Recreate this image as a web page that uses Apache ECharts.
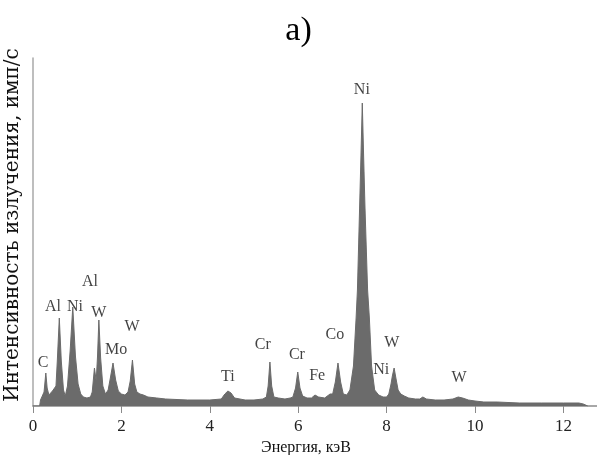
<!DOCTYPE html>
<html>
<head>
<meta charset="utf-8">
<script src="https://cdn.jsdelivr.net/npm/echarts@6/dist/echarts.min.js"></script>
<style>html,body{margin:0;padding:0;background:#fff;}#c{width:597px;height:455px;}</style>
</head>
<body>
<div id="c"></div>
<script>
// Spectrum: energy (keV) and intensity (arbitrary units)
var energy = [0.00,0.15,0.17,0.20,0.25,0.29,0.32,0.36,0.40,0.44,0.48,0.52,0.55,0.595,0.64,0.69,0.73,0.78,0.84,0.90,0.96,1.02,1.08,1.14,1.22,1.30,1.34,1.39,1.43,1.46,1.49,1.53,1.58,1.64,1.70,1.75,1.81,1.87,1.93,2.00,2.08,2.15,2.20,2.25,2.30,2.35,2.42,2.50,2.60,2.80,3.00,3.50,4.00,4.26,4.34,4.41,4.48,4.56,4.80,5.00,5.20,5.28,5.32,5.36,5.40,5.45,5.55,5.70,5.82,5.88,5.94,5.99,6.04,6.10,6.20,6.30,6.38,6.46,6.60,6.72,6.78,6.84,6.90,6.96,7.02,7.10,7.17,7.25,7.31,7.34,7.39,7.42,7.45,7.48,7.51,7.57,7.61,7.66,7.73,7.82,7.92,8.00,8.05,8.10,8.13,8.17,8.21,8.26,8.32,8.40,8.50,8.65,8.75,8.82,8.90,9.10,9.30,9.50,9.62,9.72,9.85,10.00,10.20,10.50,11.00,11.50,12.00,12.35,12.45,12.55];
var intensity = [0,0,6,9,14,33,18,11,12,15,13,20,45,88,45,16,10,20,55,99,50,22,12,9,8,9,14,38,25,50,86,48,20,12,16,28,43,26,15,12,11,14,25,46,22,14,12,11,9,8,7,6,6,7,12,15,13,8,6,6,7,9,20,44,20,9,8,7,8,9,18,34,18,10,8,8,11,9,8,12,12,24,43,24,12,11,16,40,88,116,200,250,303,250,200,116,88,40,16,11,9,9,12,22,30,38,28,16,12,10,8,7,7,9,7,6,6,7,9,8,6,5,4,4,3,3,3,3,2,0];

// Element labels: text, energy, intensity position
var labelText = ['C','Al','Ni','Al','W','Mo','W','Ti','Cr','Cr','Fe','Co','Ni','Ni','W','W'];
var labelX    = [0.23,0.45,0.95,1.29,1.49,1.88,2.24,4.41,5.20,5.97,6.43,6.83,7.44,7.88,8.12,9.64];
var labelY    = [43,99,99,124,93,56,79,29,61,51,30,71,316,36,63,28];

var xTicks = [0,2,4,6,8,10,12];

var spectrum = energy.map(function(e,i){return [e, intensity[i]];});
var labelData = labelText.map(function(t,i){return {value:[labelX[i], labelY[i]], name:t};});

var chart = echarts.init(document.getElementById('c'));
chart.setOption({
  animation:false,
  backgroundColor:'#fff',
  title:{text:'a)', left:'center', top:9, textStyle:{fontFamily:'Liberation Serif', fontSize:34, fontWeight:'normal', color:'#000'}},
  grid:{left:33, right:0, top:58, bottom:49, outerBoundsMode:'none', containLabel:false},
  xAxis:{
    type:'value', min:0, max:12.76,
    name:'Энергия, кэВ', nameLocation:'middle', nameGap:24,
    nameTextStyle:{fontFamily:'Liberation Serif', fontSize:16, color:'#111', padding:[0,18,0,0]},
    axisLine:{lineStyle:{color:'#8a8a8a', width:1.5}},
    axisTick:{show:true, length:7, lineStyle:{color:'#8a8a8a'}, customValues:xTicks},
    axisLabel:{customValues:xTicks, fontFamily:'Liberation Serif', fontSize:17, color:'#222', margin:12},
    splitLine:{show:false}
  },
  yAxis:{
    type:'value', min:0, max:348,
    name:'Интенсивность излучения, имп/с', nameLocation:'middle', nameGap:10,
    nameTextStyle:{fontFamily:'DejaVu Serif', fontSize:20, color:'#111', padding:[0,0,0,14]},
    axisLine:{show:true, lineStyle:{color:'#a8a8a8', width:1.5}},
    axisTick:{show:false}, axisLabel:{show:false}, splitLine:{show:false}
  },
  series:[
    {type:'line', data:spectrum, symbol:'none', silent:true,
     lineStyle:{color:'#6b6b6b', width:1}, areaStyle:{color:'#6b6b6b', opacity:1}},
    {type:'scatter', data:labelData, symbolSize:1, silent:true,
     itemStyle:{color:'rgba(0,0,0,0)'},
     label:{show:true, position:'inside', formatter:'{b}', fontFamily:'Liberation Serif', fontSize:16, color:'#111'}}
  ]
});
</script>
</body>
</html>
